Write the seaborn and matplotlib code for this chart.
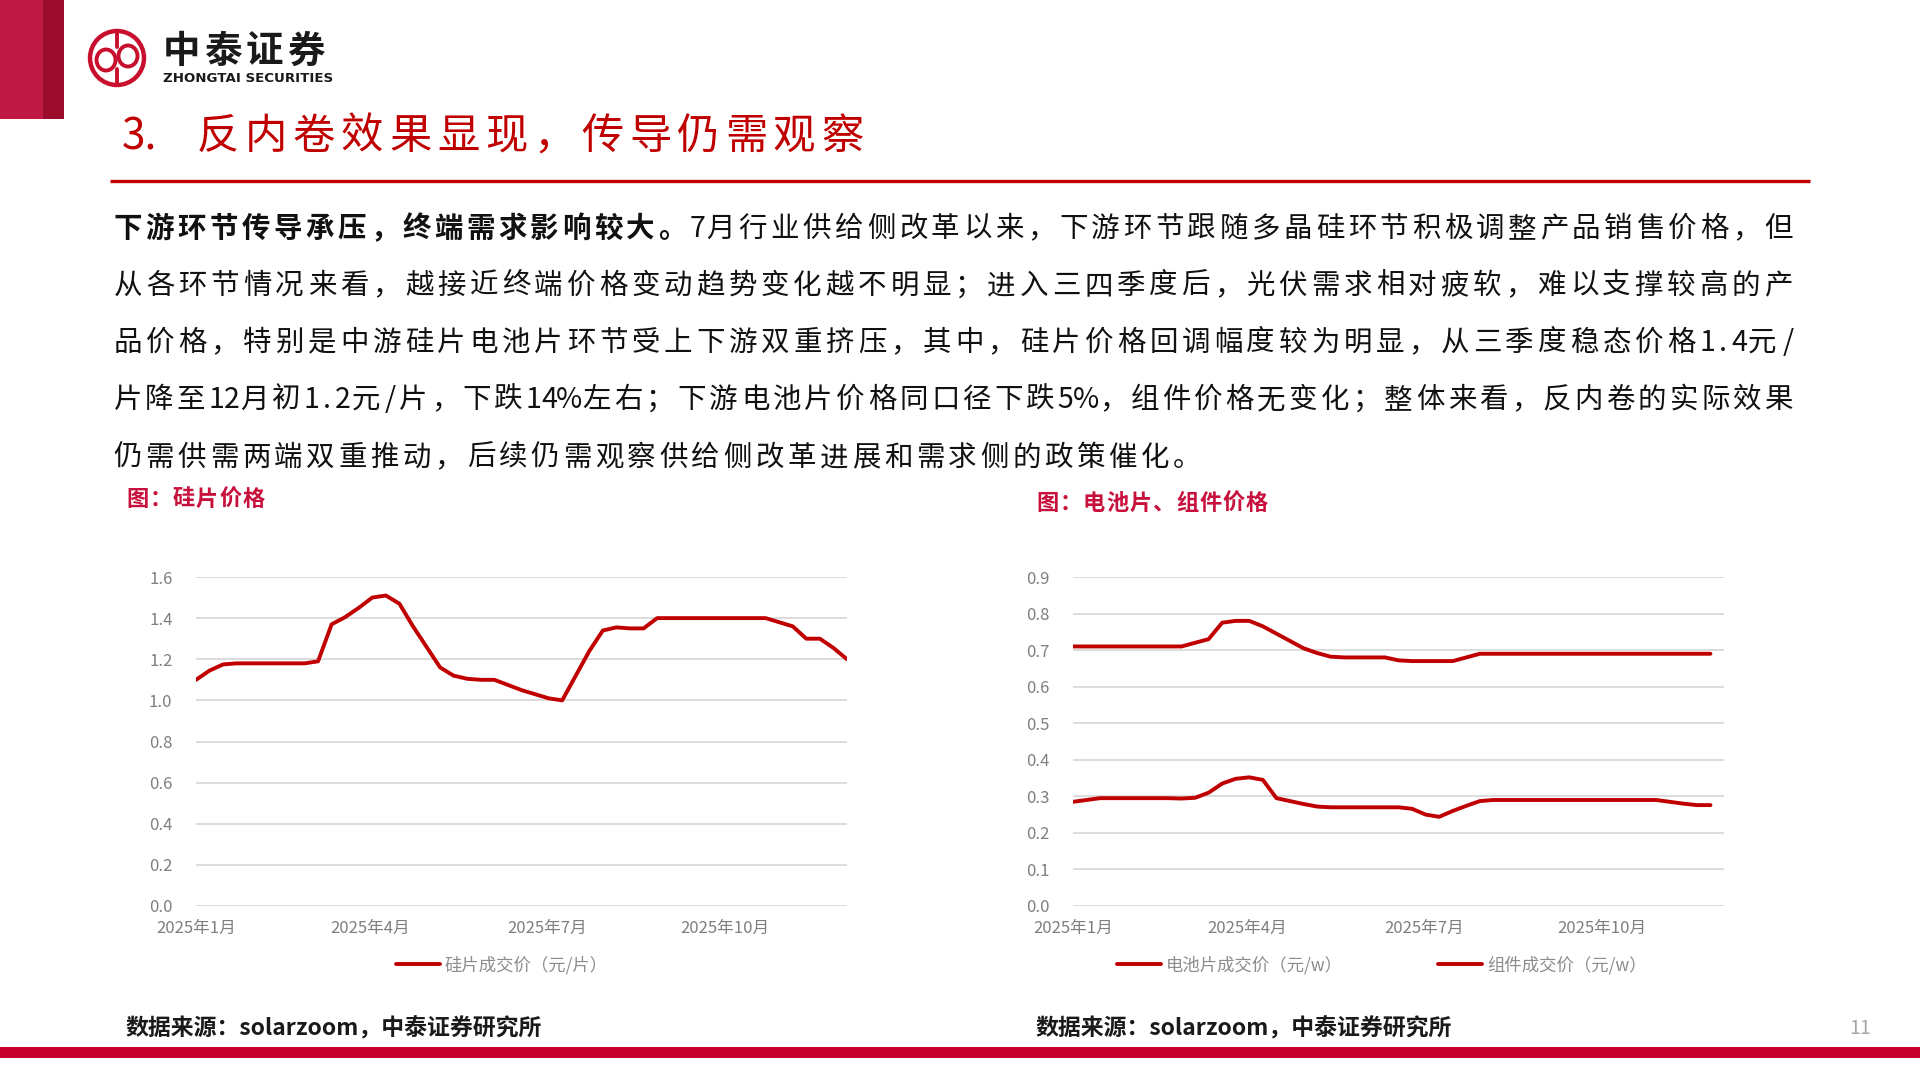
import numpy as np
import pandas as pd
import matplotlib
matplotlib.use("Agg")
import matplotlib.pyplot as plt
import seaborn as sns
from matplotlib.patches import Rectangle, Circle, Ellipse

# ---------------- data ----------------
wafer_start = "2025-01-01"
wafer_price = [1.10, 1.145, 1.175, 1.18, 1.18, 1.18, 1.18, 1.18, 1.18, 1.19,
               1.37, 1.405, 1.45, 1.50, 1.51, 1.47, 1.36, 1.26, 1.16, 1.12,
               1.105, 1.10, 1.10, 1.075, 1.05, 1.03, 1.01, 1.00, 1.12, 1.24,
               1.34, 1.355, 1.35, 1.35, 1.40, 1.40, 1.40, 1.40, 1.40, 1.40,
               1.40, 1.40, 1.40, 1.38, 1.36, 1.30, 1.30, 1.255, 1.20]

cell_start = "2025-01-01"
cell_price = [0.285, 0.29, 0.295, 0.295, 0.295, 0.295, 0.295, 0.295, 0.294, 0.296,
              0.31, 0.335, 0.348, 0.352, 0.345, 0.295, 0.287, 0.279, 0.272, 0.27,
              0.27, 0.27, 0.27, 0.27, 0.27, 0.266, 0.25, 0.244, 0.26, 0.274,
              0.287, 0.29, 0.29, 0.29, 0.29, 0.29, 0.29, 0.29, 0.29, 0.29,
              0.29, 0.29, 0.29, 0.29, 0.285, 0.28, 0.276, 0.276]
module_price = [0.71, 0.71, 0.71, 0.71, 0.71, 0.71, 0.71, 0.71, 0.71, 0.72,
                0.73, 0.775, 0.78, 0.78, 0.765, 0.745, 0.725, 0.705, 0.692, 0.682,
                0.68, 0.68, 0.68, 0.68, 0.672, 0.67, 0.67, 0.67, 0.67, 0.68,
                0.69, 0.69, 0.69, 0.69, 0.69, 0.69, 0.69, 0.69, 0.69, 0.69,
                0.69, 0.69, 0.69, 0.69, 0.69, 0.69, 0.69, 0.69]

tick_dates = ["2025-01-01", "2025-04-01", "2025-07-01", "2025-10-01"]
tick_labels = ["2025年1月", "2025年4月", "2025年7月", "2025年10月"]
x_end = "2025-12-03"

wafer_label = "硅片成交价（元/片）"
cell_label = "电池片成交价（元/w）"
module_label = "组件成交价（元/w）"

title_num = "3."
title_text = "反内卷效果显现，传导仍需观察"
body_lines = [
    "下游环节传导承压，终端需求影响较大。7月行业供给侧改革以来，下游环节跟随多晶硅环节积极调整产品销售价格，但",
    "从各环节情况来看，越接近终端价格变动趋势变化越不明显；进入三四季度后，光伏需求相对疲软，难以支撑较高的产",
    "品价格，特别是中游硅片电池片环节受上下游双重挤压，其中，硅片价格回调幅度较为明显，从三季度稳态价格1.4元/",
    "片降至12月初1.2元/片，下跌14%左右；下游电池片价格同口径下跌5%，组件价格无变化；整体来看，反内卷的实际效果",
    "仍需供需两端双重推动，后续仍需观察供给侧改革进展和需求侧的政策催化。",
]
bold_count = 18
chart1_title = "图：硅片价格"
chart2_title = "图：电池片、组件价格"
source_text = "数据来源：solarzoom，中泰证券研究所"
page_no = "11"

# ---------------- style ----------------
sns.set_theme(style="white")
plt.rcParams['font.family'] = ['Noto Sans CJK SC', 'DejaVu Sans']

RED = "#C00000"
W, H = 1920, 1080
fig = plt.figure(figsize=(19.2, 10.8), dpi=100)
fig.patch.set_facecolor("white")

# overlay in pixel coordinates
ov = fig.add_axes([0, 0, 1, 1])
ov.set_xlim(0, W)
ov.set_ylim(H, 0)
ov.axis("off")
ov.patch.set_alpha(0)

# top-left block
ov.add_patch(Rectangle((0, 0), 43, 119, color="#BE1844", lw=0))
ov.add_patch(Rectangle((43, 0), 21, 119, color="#9C0C2C", lw=0))

# logo
ov.add_patch(Circle((117, 58), 27, fill=False, ec="#C8102E", lw=3.2))
ov.add_patch(Ellipse((106, 60), 19, 21, fill=False, ec="#C8102E", lw=2.8))
ov.add_patch(Ellipse((128, 56), 19, 21, fill=False, ec="#C8102E", lw=2.8))
ov.plot([117, 117], [31, 47], color="#C8102E", lw=2.8)
ov.plot([117, 117], [69, 85], color="#C8102E", lw=2.8)
for i, ch in enumerate("中泰证券"):
    ov.text(163 + 41.5 * i, 51, ch, fontsize=27, weight="bold", color="#1a1a1a",
            ha="left", va="center")
ov.text(163, 78, "ZHONGTAI SECURITIES", fontsize=9.6, weight="bold", color="#1a1a1a",
        ha="left", va="center", family=["DejaVu Sans"])

# title
ov.text(122, 137, title_num, fontsize=30.5, color=RED, ha="left", va="center")
for i, ch in enumerate(title_text):
    ov.text(196 + 48 * i + 1, 137, ch, fontsize=30.5, color=RED, ha="left", va="center")
ov.plot([110, 1810], [181, 181], color=RED, lw=2.4, solid_capstyle="butt")


# body text with justified per-character layout
def cw(c):
    if ord(c) < 128:
        return 0.78 if c == "%" else 0.5
    return 1.0


body_y = [229, 286, 343, 400, 458]
X0, X1 = 113, 1796
for li, line in enumerate(body_lines):
    widths = [cw(c) for c in line]
    if li < len(body_lines) - 1:
        u = (X1 - X0) / sum(widths)
    else:
        u = 32.1
    x = X0
    for ci, ch in enumerate(line):
        w = widths[ci] * u
        bold = (li == 0 and ci < bold_count)
        if ord(ch) < 128:
            ov.text(x + w / 2, body_y[li], ch, fontsize=20.5, ha="center", va="center",
                    color="#111111", weight="bold" if bold else "normal")
        else:
            ov.text(x + 0.5, body_y[li], ch, fontsize=20.5, ha="left", va="center",
                    color="#111111", weight="bold" if bold else "normal")
        x += w

# chart titles
CT = "#C8103C"
for i, ch in enumerate(chart1_title):
    ov.text(126 + 23.3 * i, 499, ch, fontsize=16, weight="bold", color=CT, ha="left", va="center")
for i, ch in enumerate(chart2_title):
    ov.text(1036 + 23.3 * i, 503, ch, fontsize=16, weight="bold", color=CT, ha="left", va="center")

# footer
ov.text(125, 1029, source_text, fontsize=16.5, weight="bold", color="#1a1a1a",
        ha="left", va="center")
ov.text(1035, 1029, source_text, fontsize=16.5, weight="bold", color="#1a1a1a",
        ha="left", va="center")
ov.text(1860, 1029, page_no, fontsize=14, color="#A6A6A6", ha="center", va="center")
ov.add_patch(Rectangle((0, 1047), W, 11, color="#C8002D", lw=0))

# ---------------- charts ----------------
wafer_df = pd.DataFrame({
    "date": pd.date_range(wafer_start, periods=len(wafer_price), freq="7D"),
    "price": wafer_price,
})
cm_dates = pd.date_range(cell_start, periods=len(cell_price), freq="7D")
cell_df = pd.DataFrame({"date": cm_dates, "price": cell_price})
module_df = pd.DataFrame({"date": cm_dates, "price": module_price})


def axes_px(x0, x1, y0, y1):
    return fig.add_axes([x0 / W, 1 - y1 / H, (x1 - x0) / W, (y1 - y0) / H])


def style_axes(ax, ymax, step):
    ax.set_facecolor("none")
    for s in ax.spines.values():
        s.set_visible(False)
    ax.set_ylim(0, ymax)
    ticks = np.round(np.arange(0, ymax + step / 2, step), 2)
    ax.set_yticks(ticks)
    ax.set_yticklabels([f"{t:.1f}" for t in ticks])
    ax.grid(axis="y", color="#D9D9D9", lw=1.3)
    ax.grid(axis="x", visible=False)
    ax.set_axisbelow(True)
    ax.set_xlim(pd.Timestamp(tick_dates[0]), pd.Timestamp(x_end))
    ax.set_xticks(pd.to_datetime(tick_dates))
    ax.set_xticklabels(tick_labels)
    ax.tick_params(axis="y", length=0, pad=17, labelsize=12, labelcolor="#7F7F7F")
    ax.tick_params(axis="x", length=0, pad=10, labelsize=12, labelcolor="#7F7F7F")
    ax.set_xlabel("")
    ax.set_ylabel("")


ax1 = axes_px(196, 847, 577, 906)
sns.lineplot(data=wafer_df, x="date", y="price", ax=ax1, color=RED, lw=2.8,
             label=wafer_label)
style_axes(ax1, 1.6, 0.2)
ax1.legend(loc="center", bbox_to_anchor=(502 / W, 1 - 965 / H), bbox_transform=fig.transFigure,
           frameon=False, fontsize=12.5, labelcolor="#8C8C8C", handlelength=2.5,
           handletextpad=0.3)

ax2 = axes_px(1073, 1724, 577, 906)
sns.lineplot(data=cell_df, x="date", y="price", ax=ax2, color=RED, lw=2.8, label=cell_label)
sns.lineplot(data=module_df, x="date", y="price", ax=ax2, color=RED, lw=2.8, label=module_label)
style_axes(ax2, 0.9, 0.1)
ax2.legend(loc="center", bbox_to_anchor=(1382 / W, 1 - 965 / H), bbox_transform=fig.transFigure,
           frameon=False, fontsize=12.5, labelcolor="#8C8C8C", handlelength=2.5,
           handletextpad=0.3, ncol=2, columnspacing=5.5)

fig.savefig("out.png", dpi=100, facecolor="white")
